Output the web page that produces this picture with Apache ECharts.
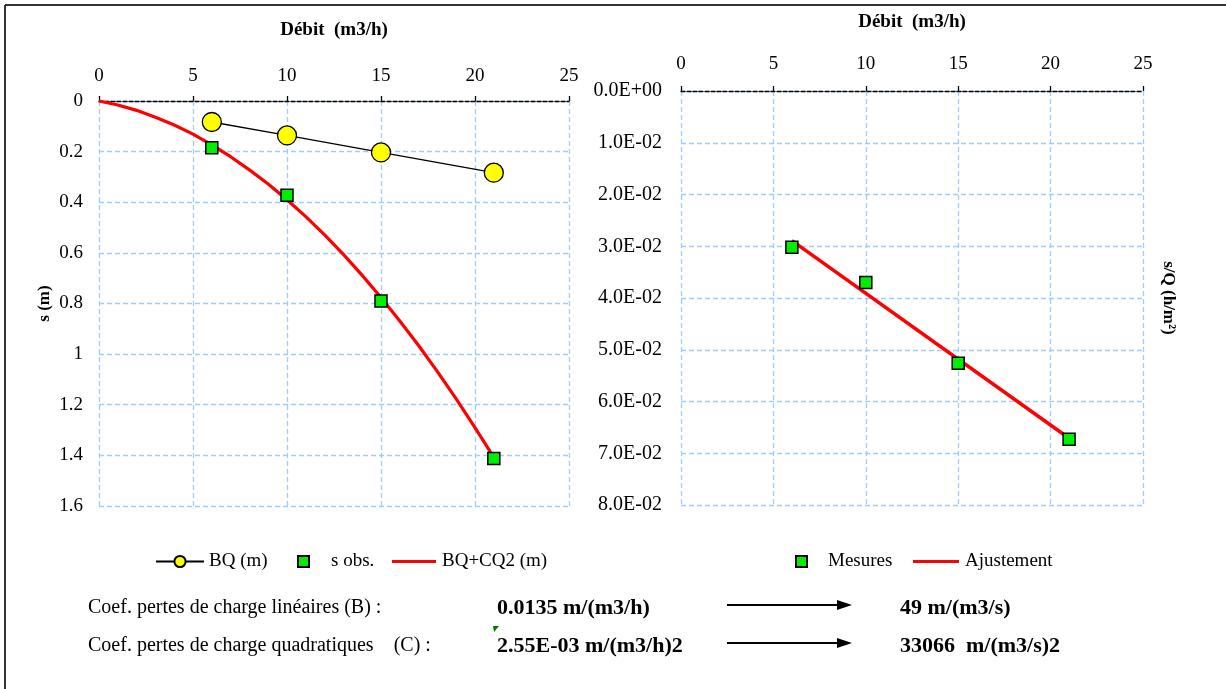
<!DOCTYPE html>
<html><head><meta charset="utf-8">
<script src="https://cdn.jsdelivr.net/npm/echarts@6/dist/echarts.min.js"></script>
<style>html,body{margin:0;padding:0;background:#fff}#c{width:1226px;height:689px}</style>
</head><body><div id="c"></div>
<script>
// ---- data ----
const debit = [6, 10, 15, 21];
const bqValues = [0.083, 0.136, 0.203, 0.283];
const sObs = [0.185, 0.372, 0.790, 1.412];
const curveQ = [0, 1, 2, 3, 4, 5, 6, 7, 8, 9, 10, 11, 12, 13, 14, 15, 16, 17, 18, 19, 20, 21];
const curveS = [0, 0.016, 0.037, 0.064, 0.095, 0.131, 0.173, 0.220, 0.272, 0.328, 0.390, 0.457, 0.529, 0.606, 0.689, 0.776, 0.869, 0.966, 1.069, 1.177, 1.290, 1.408];
const sOverQ = [0.0302, 0.0370, 0.0526, 0.0673];
const fitQ = [6, 21];
const fitV = [0.0289, 0.0671];
const xTicks = ['0', '5', '10', '15', '20', '25'];
const yTicksLeft = ['0', '0.2', '0.4', '0.6', '0.8', '1', '1.2', '1.4', '1.6'];
const yTicksRight = ['0.0E+00', '1.0E-02', '2.0E-02', '3.0E-02', '4.0E-02', '5.0E-02', '6.0E-02', '7.0E-02', '8.0E-02'];
const xTitle = 'Débit  (m3/h)';
const yTitleLeft = 's (m)';
const yTitleRight = 's/Q (h/m²)';
const legendLeft = ['BQ (m)', 's obs.', 'BQ+CQ2 (m)'];
const legendRight = ['Mesures', 'Ajustement'];
const notes = [
  ['Coef. pertes de charge linéaires (B) :', '0.0135 m/(m3/h)', '49 m/(m3/s)'],
  ['Coef. pertes de charge quadratiques    (C) :', '2.55E-03 m/(m3/h)2', '33066  m/(m3/s)2']
];

const FONT = "'Liberation Serif', 'Times New Roman', serif";
const zip = (a, b) => a.map((v, i) => [v, b[i]]);
const gridLine = { show: true, lineStyle: { color: '#9fcbff', type: [5, 3], width: 1.3 } };

function xAxisCfg(grid, gap, lblMargin) {
  return {
    gridIndex: grid, type: 'value', position: 'top', min: 0, max: 25, interval: 5,
    name: xTitle, nameLocation: 'middle', nameGap: gap,
    nameTextStyle: { fontFamily: FONT, fontSize: 19, fontWeight: 'bold', color: '#000' },
    axisLine: { show: true, onZero: false, lineStyle: { color: '#000', type: [4, 2], width: 1.3 } },
    axisTick: { show: true, length: 5, lineStyle: { color: '#000', width: 1.3 } },
    axisLabel: { margin: lblMargin, fontFamily: FONT, fontSize: 19, color: '#000',
      formatter: v => xTicks[Math.round(v / 5)] },
    splitLine: gridLine
  };
}

const chart = echarts.init(document.getElementById('c'), null, { renderer: 'canvas' });
const lt = (pad) => ({ fontFamily: FONT, fontSize: 19, color: '#000', padding: [0, 0, 0, pad] });

const option = {
  backgroundColor: '#fff',
  animation: false,
  grid: [
    { left: 99, top: 101, width: 470, height: 405 },
    { left: 681, top: 91, width: 462, height: 414 }
  ],
  xAxis: [xAxisCfg(0, 61, 15), xAxisCfg(1, 59, 17)],
  yAxis: [
    {
      gridIndex: 0, type: 'value', inverse: true, min: 0, max: 1.6, interval: 0.2,
      name: yTitleLeft, nameLocation: 'middle', nameGap: 46, nameRotate: 90,
      nameTextStyle: { fontFamily: FONT, fontSize: 17, fontWeight: 'bold', color: '#000' },
      axisLine: { show: false }, axisTick: { show: false },
      axisLabel: { margin: 16, fontFamily: FONT, fontSize: 19, color: '#000',
        formatter: v => yTicksLeft[Math.round(v / 0.2)] },
      splitLine: gridLine
    },
    {
      gridIndex: 1, type: 'value', inverse: true, min: 0, max: 0.08, interval: 0.01,
      axisLine: { show: false }, axisTick: { show: false },
      axisLabel: { margin: 19, fontFamily: FONT, fontSize: 20, color: '#000',
        formatter: v => yTicksRight[Math.round(v / 0.01)] },
      splitLine: gridLine
    },
    {
      gridIndex: 1, type: 'value', inverse: true, min: 0, max: 0.08, position: 'right',
      name: yTitleRight, nameLocation: 'middle', nameGap: 17, nameRotate: -90,
      nameTextStyle: { fontFamily: FONT, fontSize: 17, fontWeight: 'bold', color: '#000' },
      axisLine: { show: false }, axisTick: { show: false }, axisLabel: { show: false },
      splitLine: { show: false }
    }
  ],
  legend: [
    { data: [legendLeft[0]], left: 150, top: 547, itemWidth: 48, itemHeight: 14, itemGap: 0, textStyle: lt(0) },
    { data: [{ name: legendLeft[1], icon: 'rect' }], left: 292, top: 547, itemWidth: 11, itemHeight: 11, textStyle: lt(17) },
    { data: [{ name: legendLeft[2], icon: 'rect' }], left: 387, top: 547, itemWidth: 44, itemHeight: 3,
      itemStyle: { color: '#ff0000', borderWidth: 0 }, textStyle: lt(1) },
    { data: [{ name: legendRight[0], icon: 'rect' }], left: 790, top: 547, itemWidth: 11, itemHeight: 11, textStyle: lt(16) },
    { data: [{ name: legendRight[1], icon: 'rect' }], left: 908, top: 547, itemWidth: 46, itemHeight: 3,
      itemStyle: { color: '#ff0000', borderWidth: 0 }, textStyle: lt(1) }
  ],
  series: [
    {
      name: legendLeft[2], type: 'line', xAxisIndex: 0, yAxisIndex: 0,
      data: zip(curveQ, curveS), symbol: 'none', z: 2,
      lineStyle: { color: '#ff0000', width: 3.2 }, itemStyle: { color: '#ff0000' }
    },
    {
      name: legendLeft[0], type: 'line', xAxisIndex: 0, yAxisIndex: 0,
      data: zip(debit, bqValues), symbol: 'circle', symbolSize: 19, z: 4,
      lineStyle: { color: '#000', width: 1.3 },
      itemStyle: { color: '#ffff00', borderColor: '#000', borderWidth: 1.3 }
    },
    {
      name: legendLeft[1], type: 'scatter', xAxisIndex: 0, yAxisIndex: 0,
      data: zip(debit, sObs), symbol: 'rect', symbolSize: 12, z: 3,
      itemStyle: { color: '#00ee00', borderColor: '#000', borderWidth: 1.5, opacity: 1 }
    },
    {
      name: legendRight[1], type: 'line', xAxisIndex: 1, yAxisIndex: 1,
      data: zip(fitQ, fitV), symbol: 'none', z: 2,
      lineStyle: { color: '#ff0000', width: 3.5 }, itemStyle: { color: '#ff0000' }
    },
    {
      name: legendRight[0], type: 'scatter', xAxisIndex: 1, yAxisIndex: 1,
      data: zip(debit, sOverQ), symbol: 'rect', symbolSize: 12, z: 3,
      itemStyle: { color: '#00ee00', borderColor: '#000', borderWidth: 1.5, opacity: 1 }
    }
  ],
  graphic: [
    { type: 'line', shape: { x1: 5, y1: 5, x2: 1226, y2: 5 }, style: { stroke: '#333', lineWidth: 2 } },
    { type: 'line', shape: { x1: 5, y1: 5, x2: 5, y2: 689 }, style: { stroke: '#333', lineWidth: 2 } },
    ...notes.flatMap((row, i) => {
      const y = 610 + i * 38;
      const ay = 605 + i * 38;
      return [
        { type: 'text', left: 88, top: y - 12, style: { text: row[0], font: `20px ${FONT}`, fill: '#000' } },
        { type: 'text', left: 497, top: y - 13, style: { text: row[1], font: `bold 22px ${FONT}`, fill: '#000' } },
        { type: 'text', left: 900, top: y - 13, style: { text: row[2], font: `bold 22px ${FONT}`, fill: '#000' } },
        { type: 'line', shape: { x1: 727, y1: ay, x2: 846, y2: ay }, style: { stroke: '#000', lineWidth: 1.8 } },
        { type: 'polygon', shape: { points: [[837, ay - 5], [852, ay], [837, ay + 5]] }, style: { fill: '#000' } }
      ];
    }),
    { type: 'polygon', shape: { points: [[493, 626], [499, 626], [494, 632]] }, style: { fill: '#007a00' } }
  ]
};
chart.setOption(option);
</script>
</body></html>
